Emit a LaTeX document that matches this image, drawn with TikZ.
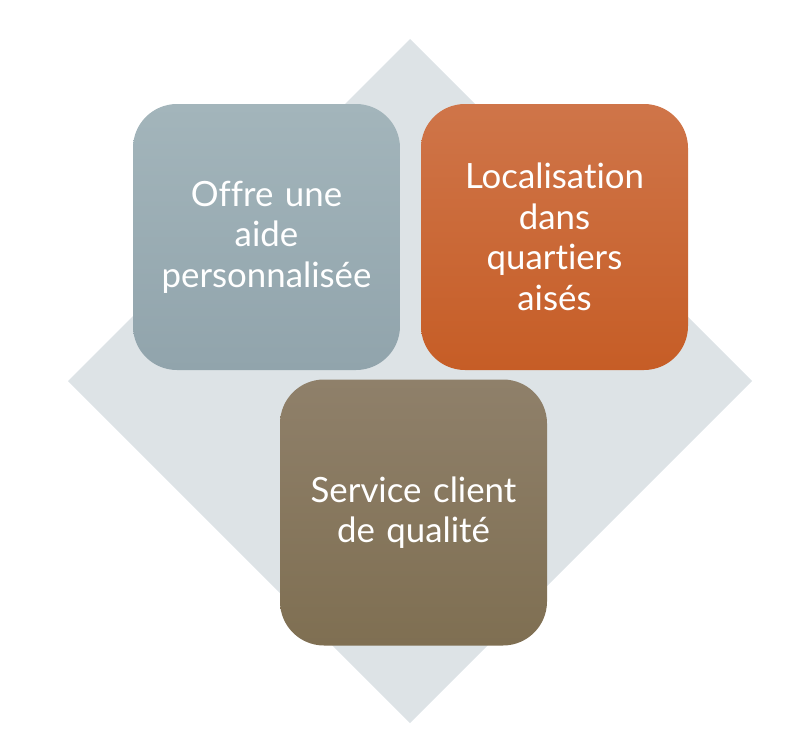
\documentclass[tikz,border=0pt]{standalone}
\usepackage{fontspec}
\setmainfont{Lato}[Ligatures={NoCommon}]
\usetikzlibrary{shapes.geometric}
\definecolor{diamondbg}{HTML}{DDE3E6}
\definecolor{slateTop}{HTML}{A3B5BB}
\definecolor{slateBot}{HTML}{91A4AC}
\definecolor{rustTop}{HTML}{CF7549}
\definecolor{rustBot}{HTML}{C65D26}
\definecolor{taupeTop}{HTML}{8F806A}
\definecolor{taupeBot}{HTML}{7F6F52}
\tikzset{
  tile/.style={minimum width=267pt, minimum height=266pt, rounded corners=44pt,
    inner sep=0pt, text=white, align=center, text width=250pt,
    font=\fontsize{34.8}{40.5}\selectfont},
}
\begin{document}
\begin{tikzpicture}[x=1pt,y=-1pt]
\useasboundingbox (0,0) rectangle (804,755);
% background diamond
\coordinate (dt) at (410,39);
\coordinate (dr) at (752,381);
\coordinate (db) at (410,723);
\coordinate (dl) at (68,381);
\fill[diamondbg] (dt) -- (dr) -- (db) -- (dl) -- cycle;
% three tiles
\node[tile, top color=slateTop, bottom color=slateBot] (aide) at (266.5,237)
  {Offre une\\aide\\personnalisée};
\node[tile, top color=rustTop, bottom color=rustBot] (quartiers) at (554.5,237)
  {Localisation\\dans\\quartiers\\aisés};
\node[tile, top color=taupeTop, bottom color=taupeBot] (service) at (413.5,512.5)
  {Service client\\de qualité};
\end{tikzpicture}
\end{document}
